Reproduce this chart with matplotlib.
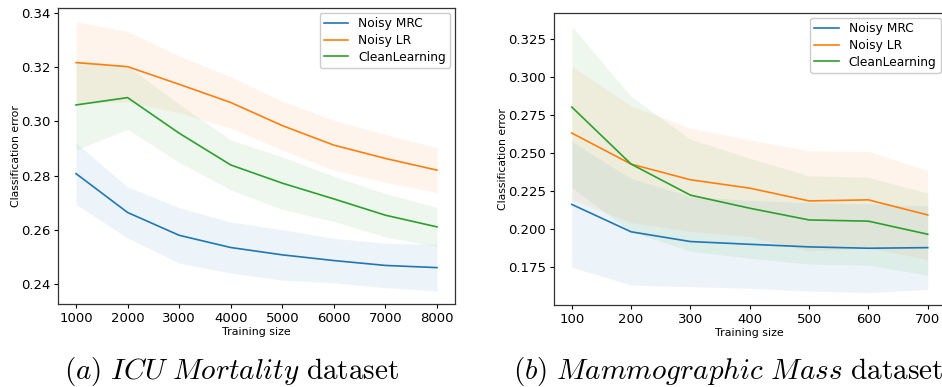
import numpy as np
import matplotlib
matplotlib.use("Agg")
import matplotlib.pyplot as plt

plt.rcParams['mathtext.fontset'] = 'cm'

# ICU Mortality
icu_sizes = [1000, 2000, 3000, 4000, 5000, 6000, 7000, 8000]
icu_mrc = [0.2807, 0.2664, 0.2580, 0.2535, 0.2508, 0.2487, 0.2469, 0.2461]
icu_mrc_std = [0.0113, 0.0094, 0.0102, 0.0094, 0.0093, 0.0082, 0.0082, 0.0086]
icu_lr = [0.3216, 0.3201, 0.3136, 0.3069, 0.2984, 0.2912, 0.2863, 0.2820]
icu_lr_std = [0.0150, 0.0130, 0.0105, 0.0095, 0.0090, 0.0092, 0.0088, 0.0083]
icu_cl = [0.3060, 0.3087, 0.2956, 0.2839, 0.2772, 0.2714, 0.2654, 0.2611]
icu_cl_std = [0.0165, 0.0117, 0.0107, 0.0092, 0.0097, 0.0083, 0.0080, 0.0072]

# Mammographic Mass
mm_sizes = [100, 200, 300, 400, 500, 600, 700]
mm_mrc = [0.2163, 0.1983, 0.1919, 0.1901, 0.1884, 0.1875, 0.1879]
mm_mrc_std = [0.0413, 0.0350, 0.0297, 0.0289, 0.0290, 0.0292, 0.0274]
mm_lr = [0.2632, 0.2428, 0.2325, 0.2270, 0.2186, 0.2193, 0.2094]
mm_lr_std = [0.0438, 0.0383, 0.0339, 0.0318, 0.0329, 0.0318, 0.0292]
mm_cl = [0.2803, 0.2428, 0.2224, 0.2138, 0.2061, 0.2053, 0.1967]
mm_cl_std = [0.0530, 0.0445, 0.0368, 0.0329, 0.0290, 0.0289, 0.0270]

labels = ["Noisy MRC", "Noisy LR", "CleanLearning"]
colors = ["#1f77b4", "#ff7f0e", "#2ca02c"]

W, H = 942, 387
fig = plt.figure(figsize=(W / 100, H / 100), dpi=100)

def ax_rect(l, t, r, b):
    return [l / W, 1 - b / H, (r - l) / W, (b - t) / H]

ax1 = fig.add_axes(ax_rect(58, 8, 455, 304))
ax2 = fig.add_axes(ax_rect(554, 13, 945.5, 305))

def draw(ax, x, series, stds, ylim, yticks):
    x = np.array(x)
    for m, s, c, lab in zip(series, stds, colors, labels):
        m = np.array(m); s = np.array(s)
        ax.plot(x, m, color=c, lw=1.2, label=lab)
        ax.fill_between(x, m - s, m + s, color=c, alpha=0.08, lw=0)
    ax.set_ylim(*ylim)
    ax.set_yticks(yticks)
    ax.set_xticks(x)
    ax.tick_params(labelsize=9.5, length=3, width=0.8, pad=2.5)
    ax.set_ylabel("Classification error", fontsize=7.8, labelpad=0)
    ax.set_xlabel("Training size", fontsize=7.9, labelpad=1.5)
    for sp in ax.spines.values():
        sp.set_linewidth(0.9)
        sp.set_color("#333333")
    ax.legend(loc="upper right", fontsize=8.8, framealpha=1, edgecolor="#cccccc",
              handlelength=2.0, borderpad=0.35, labelspacing=0.3, handletextpad=0.8,
              borderaxespad=0.4)

draw(ax1, icu_sizes, [icu_mrc, icu_lr, icu_cl], [icu_mrc_std, icu_lr_std, icu_cl_std],
     (0.2327, 0.3417), [0.24, 0.26, 0.28, 0.30, 0.32, 0.34])
ax1.set_xlim(650, 8350)
ax1.yaxis.set_major_formatter(matplotlib.ticker.FormatStrFormatter('%.2f'))

draw(ax2, mm_sizes, [mm_mrc, mm_lr, mm_cl], [mm_mrc_std, mm_lr_std, mm_cl_std],
     (0.1502, 0.3421), [0.175, 0.200, 0.225, 0.250, 0.275, 0.300, 0.325])
ax2.set_xlim(70, 730)
ax2.yaxis.set_major_formatter(matplotlib.ticker.FormatStrFormatter('%.3f'))

fig.text(232 / W, 1 - 371 / H, r"$(a)\ \mathit{ICU\ Mortality}\ \mathrm{dataset}$",
         ha="center", va="center", fontsize=21)
fig.text(728 / W, 1 - 371 / H, r"$(b)\ \mathit{Mammographic\ Mass}\ \mathrm{dataset}$",
         ha="center", va="center", fontsize=21)

fig.savefig("out.png", dpi=100)
